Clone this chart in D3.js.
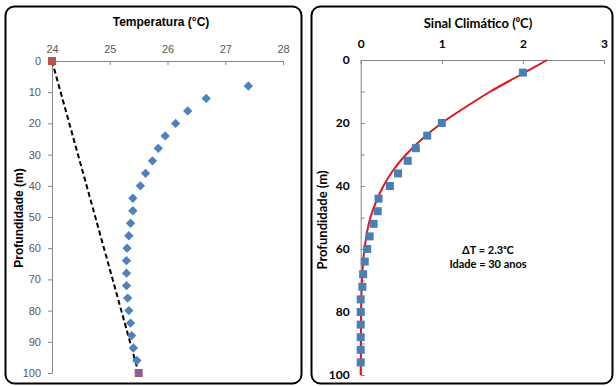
<!DOCTYPE html>
<html><head><meta charset="utf-8">
<script src="https://cdn.jsdelivr.net/npm/d3@7"></script>
<style>body{margin:0;background:#fff}svg{display:block}</style>
</head><body><svg id="c" width="616" height="386"></svg>
<script>
// Left panel: temperature profile
const tempDepths = [8,12,16,20,24,28,32,36,40,44,48,52,56,60,64,68,72,76,80,84,88,92,96];
const tempValues = [27.40,26.67,26.35,26.14,25.96,25.84,25.74,25.62,25.53,25.40,25.40,25.36,25.33,25.30,25.29,25.29,25.29,25.31,25.33,25.36,25.38,25.41,25.47];
const trendDepths = [0,100];
const trendValues = [24.0,25.5];
const tempTicks = [24,25,26,27,28];
const depthTicksLeft = [0,10,20,30,40,50,60,70,80,90,100];
// Right panel: climate signal
const sigDepths = [4,20,24,28,32,36,40,44,48,52,56,60,64,68,72,76,80,84,88,92,96];
const sigValues = [2.0,1.0,0.82,0.68,0.58,0.46,0.36,0.22,0.21,0.16,0.11,0.08,0.05,0.03,0.02,0,0,0,0,0,0];
const fitDepths = [0,5,10,15,20,25,30,35,40,45,50,60,70,80,100];
const fitValues = [2.30,1.95,1.60,1.29,1.00,0.76,0.56,0.40,0.28,0.19,0.12,0.046,0.016,0.005,0];
const sigTicks = [0,1,2,3];
const depthTicksRight = [0,10,20,30,40,50,60,70,80,90,100];

const svg = d3.select('#c');
svg.append('rect').attr('width',616).attr('height',386).attr('fill','#fff');
// panel borders
svg.append('rect').attr('x',5.5).attr('y',6.5).attr('width',296).attr('height',377).attr('rx',9)
  .attr('fill','none').attr('stroke','#000').attr('stroke-width',2);
svg.append('rect').attr('x',311.5).attr('y',6.5).attr('width',301).attr('height',377).attr('rx',9)
  .attr('fill','none').attr('stroke','#000').attr('stroke-width',2);

const gray = '#868686';
const fmt = d3.format('d');
// ---------- Left ----------
const xL = d3.scaleLinear().domain([24,28]).range([52,283]);
const yL = d3.scaleLinear().domain([0,100]).range([61,373]);
const gxL = svg.append('g').attr('transform',`translate(0,${yL(0)})`)
  .call(d3.axisTop(xL).tickValues(tempTicks).tickFormat(fmt).tickSizeInner(-4).tickSizeOuter(0).tickPadding(8));
const gyL = svg.append('g').attr('transform',`translate(${xL(24)},0)`)
  .call(d3.axisLeft(yL).tickValues(depthTicksLeft).tickFormat(fmt).tickSizeInner(4).tickSizeOuter(0).tickPadding(7));
[gxL,gyL].forEach(g=>{
  g.selectAll('path,line').attr('stroke',gray);
  g.selectAll('text').attr('fill','#595959').attr('font-family','Liberation Sans, Arial, sans-serif').attr('font-size',11);
});
svg.append('text').attr('x',161).attr('y',26).attr('text-anchor','middle')
  .attr('font-family','Liberation Sans, Arial, sans-serif').attr('font-weight','bold').attr('font-size',12)
  .text('Temperatura (°C)');
svg.append('text').attr('transform','translate(23,218) rotate(-90)').attr('text-anchor','middle')
  .attr('font-family','Liberation Sans, Arial, sans-serif').attr('font-weight','bold').attr('font-size',12)
  .text('Profundidade (m)');
// dashed trend
svg.append('path').datum(trendDepths.map((d,i)=>[trendValues[i],d]))
  .attr('d',d3.line().x(d=>xL(d[0])).y(d=>yL(d[1])))
  .attr('fill','none').attr('stroke','#000').attr('stroke-width',2).attr('stroke-dasharray','5,3');
// diamonds
svg.append('g').selectAll('path').data(tempDepths).join('path')
  .attr('transform',(d,i)=>`translate(${xL(tempValues[i])},${yL(d)}) rotate(45)`)
  .attr('d','M-3.3,-3.3h6.6v6.6h-6.6z').attr('fill','#4f81bd');
// end squares
svg.append('rect').attr('x',xL(trendValues[0])-4).attr('y',yL(trendDepths[0])-4).attr('width',8).attr('height',8)
  .attr('fill','#c0504d');
svg.append('rect').attr('x',xL(trendValues[1])-3.5).attr('y',yL(trendDepths[1])-3.5).attr('width',7).attr('height',7)
  .attr('fill','#8064a2').attr('stroke','#c0504d').attr('stroke-width',1);

// ---------- Right ----------
const xR = d3.scaleLinear().domain([0,3]).range([360.7,604]);
const yR = d3.scaleLinear().domain([0,100]).range([60,375]);
const gxR = svg.append('g').attr('transform',`translate(0,${yR(0)})`)
  .call(d3.axisTop(xR).tickValues(sigTicks).tickFormat(fmt).tickSizeInner(-4).tickSizeOuter(0).tickPadding(12));
const gyR = svg.append('g').attr('transform',`translate(${xR(0)},0)`)
  .call(d3.axisLeft(yR).tickValues(depthTicksRight).tickFormat(d=>d%20===0?fmt(d):'').tickSizeInner(-4).tickSizeOuter(0).tickPadding(11));
[gxR,gyR].forEach(g=>{
  g.selectAll('path,line').attr('stroke',gray);
  g.selectAll('text').attr('fill','#000').attr('font-family','Lato, Open Sans, sans-serif').attr('font-weight','bold').attr('font-size',12);
});
svg.append('text').attr('x',478).attr('y',28).attr('text-anchor','middle')
  .attr('font-family','Lato, Open Sans, sans-serif').attr('font-weight','bold').attr('font-size',13)
  .text('Sinal Climático (⁰C)');
svg.append('text').attr('transform','translate(327,220) rotate(-90)').attr('text-anchor','middle')
  .attr('font-family','Lato, Open Sans, sans-serif').attr('font-weight','bold').attr('font-size',13)
  .text('Profundidade (m)');
// fit curve
svg.append('path').datum(fitDepths.map((d,i)=>[fitValues[i],d]))
  .attr('d',d3.line().curve(d3.curveMonotoneY).x(d=>xR(d[0])).y(d=>yR(d[1])))
  .attr('fill','none').attr('stroke','#e0161b').attr('stroke-width',2);
// squares
svg.append('g').selectAll('rect').data(sigDepths).join('rect')
  .attr('x',(d,i)=>xR(sigValues[i])-4).attr('y',d=>yR(d)-4).attr('width',8).attr('height',8)
  .attr('fill','#4a7fb5');
// annotation
const ann = svg.append('text').attr('text-anchor','middle')
  .attr('font-family','Lato, Open Sans, sans-serif').attr('font-weight','bold').attr('font-size',11);
ann.append('tspan').attr('x',488).attr('y',254).text('ΔT = 2.3ᵒC');
ann.append('tspan').attr('x',488).attr('y',268).text('Idade = 30 anos');
</script></body></html>
